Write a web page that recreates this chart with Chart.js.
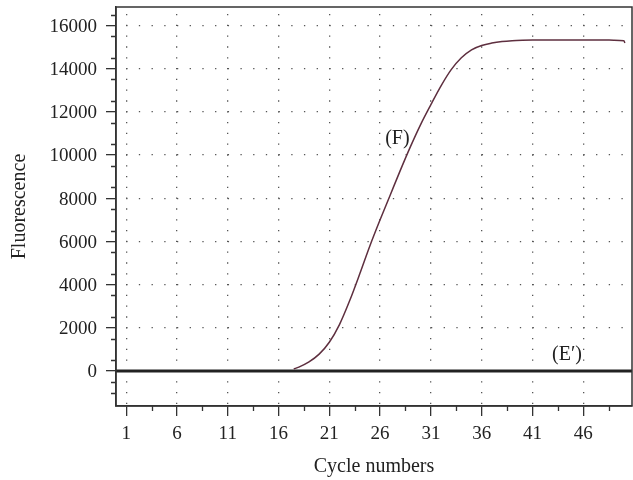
<!DOCTYPE html>
<html>
<head>
<meta charset="utf-8">
<script src="https://cdn.jsdelivr.net/npm/chart.js@4.4.0/dist/chart.umd.min.js"></script>
<style>
  html, body { margin: 0; padding: 0; background: #fff; }
</style>
</head>
<body>
<canvas id="grafico" width="633" height="480"></canvas>
<script>
// curva (F)
const ciclosF = [17.5, 18, 19, 20, 21, 22, 23, 24, 25, 26, 27, 28, 29, 30, 31, 32, 33, 34, 35,
  36, 37, 38, 39, 40, 41, 42, 43, 44, 45, 46, 47, 48, 49, 50, 50.1];
const fluorF = [95, 180, 420, 780, 1330, 2150, 3250, 4500, 5800, 7000, 8150, 9300, 10400, 11420,
  12330, 13200, 13950, 14500, 14870, 15070, 15180, 15250, 15290, 15310, 15320, 15320, 15320,
  15320, 15320, 15320, 15320, 15320, 15315, 15290, 15180];

// controle (E')
const ciclosE = [0, 10, 20, 30, 40, 51];
const fluorE = [0, 0, 0, 0, 0, 0];

// eixos
const xTicks = [1, 6, 11, 16, 21, 26, 31, 36, 41, 46];
const xMinor = [3.5, 8.5, 13.5, 18.5, 23.5, 28.5, 33.5, 38.5, 43.5, 48.5];
const yTicks = [0, 2000, 4000, 6000, 8000, 10000, 12000, 14000, 16000];
const yMinor = [-1000, -500, 500, 1500, 2500, 3500, 4500, 5500, 6500, 7500, 8500, 9500,
  10500, 11500, 12500, 13500, 14500, 15500, 16500];

// rótulos das curvas
const rotulos = ["(F)", "(E\u2032)"];
const rotuloX = [27.7, 44.4];
const rotuloY = [10730, 730];

const fonte = "'Liberation Serif', 'DejaVu Serif', serif";

const extras = {
  id: "extras",
  afterDraw(chart) {
    const { ctx, chartArea: a, scales: { x, y } } = chart;
    ctx.save();
    ctx.strokeStyle = "#333";
    ctx.lineWidth = 1.5;
    ctx.strokeRect(a.left, a.top, a.right - a.left, a.bottom - a.top);
    ctx.lineWidth = 1.3;
    ctx.beginPath();
    xMinor.forEach((v) => {
      const px = Math.round(x.getPixelForValue(v)) + 0.5;
      ctx.moveTo(px, a.bottom);
      ctx.lineTo(px, a.bottom + 5);
    });
    yMinor.forEach((v) => {
      const py = Math.round(y.getPixelForValue(v)) + 0.5;
      ctx.moveTo(a.left - 5, py);
      ctx.lineTo(a.left, py);
    });
    ctx.stroke();
    ctx.fillStyle = "#222";
    ctx.font = "20px " + fonte;
    ctx.textAlign = "center";
    ctx.textBaseline = "middle";
    rotulos.forEach((t, i) => {
      ctx.fillText(t, x.getPixelForValue(rotuloX[i]), y.getPixelForValue(rotuloY[i]));
    });
    ctx.restore();
  }
};

const ctx = document.getElementById("grafico").getContext("2d");
new Chart(ctx, {
  type: "line",
  data: {
    datasets: [
      {
        label: "(F)",
        data: ciclosF.map((c, i) => ({ x: c, y: fluorF[i] })),
        borderColor: "#5e2f3f",
        borderWidth: 1.5,
        pointRadius: 0,
        cubicInterpolationMode: "monotone"
      },
      {
        label: "(E')",
        data: ciclosE.map((c, i) => ({ x: c, y: fluorE[i] })),
        borderColor: "#222",
        borderWidth: 2.8,
        pointRadius: 0
      }
    ]
  },
  options: {
    responsive: false,
    animation: false,
    layout: { padding: { top: 7, right: 1, left: 0, bottom: 0 } },
    plugins: {
      legend: { display: false },
      tooltip: { enabled: false }
    },
    scales: {
      x: {
        type: "linear",
        min: 0,
        max: 50.8,
        afterBuildTicks: (s) => { s.ticks = xTicks.map((v) => ({ value: v })); },
        afterFit: (s) => { s.height = 74; s.paddingLeft = 0; s.paddingRight = 0; },
        ticks: {
          color: "#222",
          padding: 7,
          font: { family: fonte, size: 19 },
          callback: (v) => v
        },
        grid: {
          color: "#555",
          lineWidth: 1.3,
          tickLength: 10,
          tickColor: "#333",
          tickWidth: 1.3
        },
        border: { color: "#333", width: 1.5, dash: [1.3, 9.5], dashOffset: 3.85 },
        title: {
          display: true,
          text: "Cycle numbers",
          color: "#222",
          font: { family: fonte, size: 20, lineHeight: 1.2 },
          padding: { top: 0, bottom: 1 }
        }
      },
      y: {
        type: "linear",
        min: -1620,
        max: 16850,
        afterBuildTicks: (s) => { s.ticks = yTicks.map((v) => ({ value: v })); },
        afterFit: (s) => { s.width = 116; s.paddingTop = 0; s.paddingBottom = 0; },
        ticks: {
          color: "#222",
          padding: 9,
          labelOffset: 1.5,
          font: { family: fonte, size: 19 },
          callback: (v) => v
        },
        grid: {
          color: "#555",
          lineWidth: 1.3,
          tickLength: 10,
          tickColor: "#333",
          tickWidth: 1.3
        },
        border: { color: "#333", width: 1.5, dash: [1.3, 11.4], dashOffset: 3.05 },
        title: {
          display: true,
          text: "Fluorescence",
          color: "#222",
          font: { family: fonte, size: 20, lineHeight: 1.2 },
          padding: { top: 8, bottom: 0 }
        }
      }
    }
  },
  plugins: [extras]
});
</script>
</body>
</html>
